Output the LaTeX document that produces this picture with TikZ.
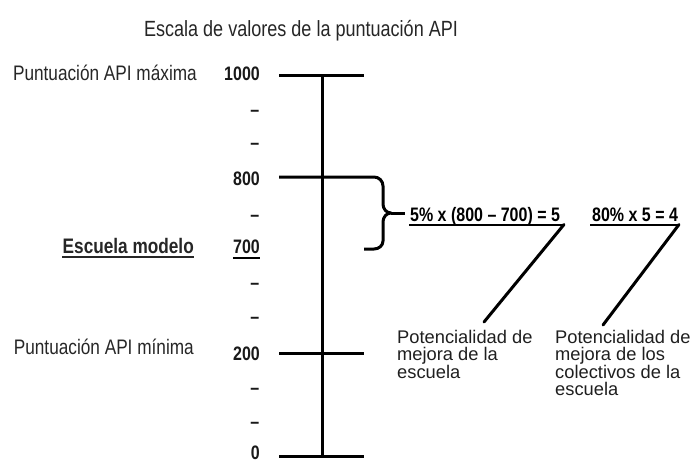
\documentclass[tikz,border=0pt]{standalone}
\usepackage{fontspec}
\setmainfont{Liberation Sans}
\newfontfamily\narrowfont[FakeStretch=0.82]{Liberation Sans}
\begin{document}
\begin{tikzpicture}[x=1pt,y=-1pt,
  lbl/.style={font=\narrowfont\fontsize{21}{25}\selectfont, inner sep=0pt, text=black!85},
  ttl/.style={font=\narrowfont\fontsize{22}{26}\selectfont, inner sep=0pt, text=black!85},
  num/.style={font=\narrowfont\bfseries\fontsize{19.5}{22}\selectfont, inner sep=0pt, anchor=base east, text=black!90},
  form/.style={font=\narrowfont\bfseries\fontsize{19.5}{22}\selectfont, inner sep=0pt, anchor=base west, text=black},
  btxt/.style={font=\fontsize{18.3}{16.8}\selectfont, inner sep=0pt, anchor=north west, align=left, text=black!88},
  bar/.style={line width=3pt},
  ul/.style={line width=2pt},
  diag/.style={line width=3pt, line cap=round}]
\useasboundingbox (0,0) rectangle (696,463);

% title
\node[ttl, anchor=base] (title) at (301,36) {Escala de valores de la puntuación API};

% left labels
\node[lbl, anchor=base east] (max) at (197,80) {Puntuación API máxima};
\node[lbl, font=\narrowfont\bfseries\fontsize{21}{25}\selectfont, anchor=base east] (model) at (194,253) {Escuela modelo};
\draw[line width=1.3pt, black!85] ([yshift=-4pt]model.base west) -- ([yshift=-4pt]model.base east);
\node[lbl, anchor=base east] (min) at (194,354) {Puntuación API mínima};

% numbers
\node[num] (n1000) at (260,80) {1000};
\node[num] (n800) at (260,185) {800};
\node[num] (n700) at (260,253) {700};
\draw[line width=1.5pt] ([yshift=-5pt]n700.base west) -- ([yshift=-5pt]n700.base east);
\node[num] (n200) at (260,360) {200};
\node[num] (n0) at (260,459.5) {0};
\foreach \y [count=\i] in {111,144,216,284,318,389,423}
  \node[num] (d\i) at (259.5,\y+5.5) {–};

% scale
\coordinate (top) at (322,75);
\coordinate (bot) at (322,456);
\draw[bar] (top) -- (bot);
\draw[bar] (279,75) -- (364,75);
\draw[bar] (279,353) -- (364,353);
\draw[bar] (279,456) -- (364,456);

% brace from 800 to 700
\coordinate (tip) at (391,213);
\coordinate (ptr) at (405,213);
\draw[bar, line join=round] (279,177) -- (374,177) to[out=0,in=90] (383,186) -- (383,204)
  to[out=-90,in=180] (tip) to[out=180,in=90] (383,222) -- (383,241)
  to[out=-90,in=0] (374,249) -- (364,249);
\draw[bar] (tip) -- (ptr);

% formulas
\node[form] (f1) at (410,221) {5\% x (800 – 700) = 5};
\node[form] (f2) at (592,221) {80\% x 5 = 4};
\coordinate (u1a) at (409,224.5);
\coordinate (u1) at (564,224.5);
\coordinate (u2a) at (590,224.5);
\coordinate (u2) at (679,224.5);
\draw[ul] (u1a) -- (u1);
\draw[ul] (u2a) -- (u2);

% explanation texts
\node[btxt] (p1) at (397,330.5) {Potencialidad de\\mejora de la\\escuela};
\node[btxt] (p2) at (555,330.5) {Potencialidad de\\mejora de los\\colectivos de la\\escuela};
\coordinate (c1) at (484,322);
\coordinate (c2) at (603,325);
\draw[diag] (u1) -- (c1);
\draw[diag] (u2) -- (c2);
\end{tikzpicture}
\end{document}
